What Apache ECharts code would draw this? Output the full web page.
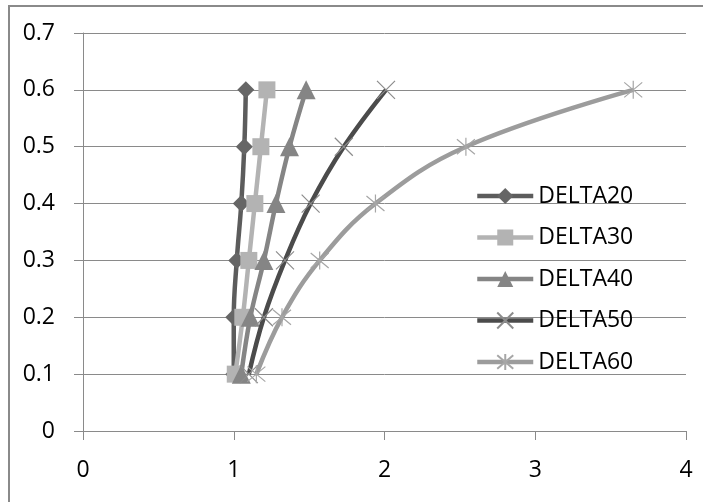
<!DOCTYPE html>
<html>
<head>
<meta charset="utf-8">
<script src="https://cdn.jsdelivr.net/npm/echarts@6/dist/echarts.min.js"></script>
<style>
  html, body { margin: 0; padding: 0; background: #fff; }
  #chart { width: 703px; height: 502px; }
</style>
</head>
<body>
<div id="chart"></div>
<script>
// Load levels shared by every curve (y axis)
const levels = [0.1, 0.2, 0.3, 0.4, 0.5, 0.6];

// Ratio reached at each level for each DELTA setting (x axis)
const delta20 = [1.00, 1.00, 1.02, 1.05, 1.07, 1.08];
const delta30 = [1.01, 1.06, 1.10, 1.14, 1.18, 1.22];
const delta40 = [1.05, 1.11, 1.20, 1.28, 1.37, 1.48];
const delta50 = [1.10, 1.20, 1.34, 1.51, 1.73, 2.01];
const delta60 = [1.15, 1.32, 1.57, 1.94, 2.54, 3.65];

const seriesNames = ['DELTA20', 'DELTA30', 'DELTA40', 'DELTA50', 'DELTA60'];
const xTicks = [0, 1, 2, 3, 4];
const yTicks = [0, 0.1, 0.2, 0.3, 0.4, 0.5, 0.6, 0.7];

const FONT = 'Open Sans';
const AXIS_GREY = '#8a8a8a';
const TEXT_COLOR = '#000';
const FONT_SIZE = 23;

const crossPath = 'path://M0,0L10,10M10,0L0,10';
const starPath = 'path://M0,0L10,10M10,0L0,10M5,-1L5,11';

function pairs(xs) {
  return xs.map((x, i) => [x, levels[i]]);
}

const styles = [
  { line: '#5c5c5c', symbol: 'diamond', size: 17, fill: '#666666', border: '#666666', bw: 0 },
  { line: '#b3b3b3', symbol: 'rect', size: 17, fill: '#b3b3b3', border: '#b3b3b3', bw: 0 },
  { line: '#858585', symbol: 'triangle', size: 19, fill: '#858585', border: '#858585', bw: 0 },
  { line: '#4b4b4b', symbol: crossPath, size: 18, fill: 'rgba(0,0,0,0)', border: '#8c8c8c', bw: 1.2 },
  { line: '#9c9c9c', symbol: starPath, size: 18, fill: 'rgba(0,0,0,0)', border: '#a6a6a6', bw: 1.2 }
];

const values = [delta20, delta30, delta40, delta50, delta60];

const series = values.map((xs, i) => ({
  name: seriesNames[i],
  type: 'line',
  data: pairs(xs),
  smooth: 0.4,
  symbol: styles[i].symbol,
  symbolSize: styles[i].size,
  showAllSymbol: true,
  lineStyle: { color: styles[i].line, width: 4.5 },
  itemStyle: {
    color: styles[i].fill,
    borderColor: styles[i].border,
    borderWidth: styles[i].bw
  },
  emphasis: { disabled: true },
  z: 2 + i
}));

const chart = echarts.init(document.getElementById('chart'), null, { renderer: 'canvas' });

chart.setOption({
  animation: false,
  backgroundColor: '#ffffff',
  textStyle: { fontFamily: FONT },
  graphic: [{
    type: 'rect',
    shape: { x: 9, y: 6, width: 800, height: 600 },
    style: { fill: 'none', stroke: AXIS_GREY, lineWidth: 2 },
    silent: true,
    z: -1
  }],
  grid: { left: 83, right: 17, top: 33, bottom: 71 },
  xAxis: {
    type: 'value',
    min: xTicks[0],
    max: xTicks[xTicks.length - 1],
    interval: 1,
    axisLine: { show: true, onZero: false, lineStyle: { color: AXIS_GREY, width: 1 } },
    axisTick: { show: true, length: 9, lineStyle: { color: AXIS_GREY } },
    splitLine: { show: false },
    axisLabel: {
      margin: 28,
      color: TEXT_COLOR,
      fontFamily: FONT,
      fontSize: FONT_SIZE,
      formatter: v => String(v)
    }
  },
  yAxis: {
    type: 'value',
    min: yTicks[0],
    max: yTicks[yTicks.length - 1],
    interval: 0.1,
    axisLine: { show: true, onZero: false, lineStyle: { color: AXIS_GREY, width: 1 } },
    axisTick: { show: true, inside: false, length: 9, lineStyle: { color: AXIS_GREY } },
    splitLine: { show: true, lineStyle: { color: AXIS_GREY, width: 1 } },
    axisLabel: {
      margin: 28,
      color: TEXT_COLOR,
      fontFamily: FONT,
      fontSize: FONT_SIZE,
      formatter: v => {
        const r = Math.round(v * 10) / 10;
        return r === 0 ? '0' : r.toFixed(1);
      }
    }
  },
  legend: {
    orient: 'vertical',
    left: 470,
    top: 179,
    itemWidth: 56,
    itemHeight: 20,
    itemGap: 17.5,
    data: seriesNames,
    selectedMode: false,
    lineStyle: { width: 4.5 },
    textStyle: { color: TEXT_COLOR, fontFamily: FONT, fontSize: FONT_SIZE, lineHeight: 24 }
  },
  series: series
});
</script>
</body>
</html>
